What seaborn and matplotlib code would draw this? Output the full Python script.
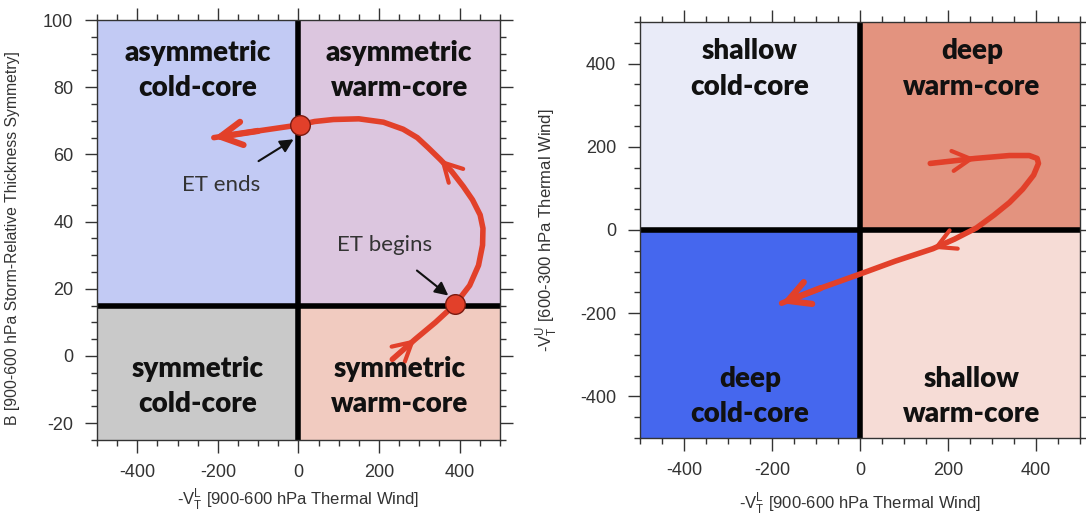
import matplotlib
matplotlib.use("Agg")
import matplotlib.pyplot as plt
from matplotlib.ticker import MultipleLocator
import seaborn as sns
import pandas as pd

# quadrant layout: (x0, x1, y0, y1, colour, label, label x, label y)
left_xlim = (-500, 500)
left_ylim = (-25, 100)
left_xsplit = 0
left_ysplit = 15
left_quads = [
    (-500, 0, 15, 100, "#c2caf4", "asymmetric\ncold-core", -250, 85),
    (0, 500, 15, 100, "#dcc6df", "asymmetric\nwarm-core", 250, 85),
    (-500, 0, -25, 15, "#c9c9c9", "symmetric\ncold-core", -250, -9),
    (0, 500, -25, 15, "#f1cbc0", "symmetric\nwarm-core", 250, -9),
]

right_xlim = (-500, 500)
right_ylim = (-500, 500)
right_quads = [
    (-500, 0, 0, 500, "#e9ebf8", "shallow\ncold-core", -250, 387),
    (0, 500, 0, 500, "#e3937f", "deep\nwarm-core", 255, 387),
    (-500, 0, -500, 0, "#4567ee", "deep\ncold-core", -250, -400),
    (0, 500, -500, 0, "#f6dcd6", "shallow\nwarm-core", 255, -400),
]

# cyclone phase trajectories
left_x = [233, 290, 340, 389, 425, 447, 457, 458, 451, 432, 409, 380, 352, 322, 295, 260,
          211, 150, 87, 40, 3, -100, -210]
left_y = [-1, 5, 10, 15.4, 21, 27, 33, 38, 42, 46.5, 50.5, 55, 58.5, 62, 65, 67.5,
          69.6, 70.6, 70.4, 69.8, 68.8, 67, 65]
left_chevrons = [(0, 1), (11, 12)]

right_x = [160, 262, 340, 385, 403, 406, 395, 370, 340, 305, 265, 215, 166, 80, 0, -90, -178]
right_y = [160, 172, 179, 179, 172, 160, 132, 98, 66, 36, 5, -22, -45, -75, -106, -140, -176]
right_chevrons = [(0, 1), (11, 12)]

# ET begins / ends markers
event_x = [389, 3]
event_y = [15.4, 68.8]

RED = "#e2402a"

sns.set_theme(style="white")
plt.rcParams["font.family"] = ["Liberation Sans", "DejaVu Sans"]
plt.rcParams["axes.unicode_minus"] = False

fig = plt.figure(figsize=(10.86, 5.21), dpi=100)
ax1 = fig.add_axes([0.0893, 0.1555, 0.371, 0.806])
ax2 = fig.add_axes([0.5893, 0.1593, 0.405, 0.7985])


def draw_quads(ax, quads):
    for x0, x1, y0, y1, col, lab, lx, ly in quads:
        ax.fill_between([x0, x1], y0, y1, color=col, lw=0, zorder=0)
        ax.text(lx, ly, lab, ha="center", va="center", fontsize=20,
                family=["Lato", "DejaVu Sans"], fontweight="heavy",
                color="#111111", linespacing=1.45, zorder=5)


def draw_path(ax, xs, ys, chevrons):
    df = pd.DataFrame({"x": xs, "y": ys})
    sns.lineplot(data=df, x="x", y="y", sort=False, estimator=None, color=RED,
                 lw=4, ax=ax, zorder=3, solid_capstyle="round",
                 solid_joinstyle="round")
    for i, j in chevrons:
        ax.annotate("", xy=(xs[j], ys[j]), xytext=(xs[i], ys[i]),
                    arrowprops=dict(arrowstyle="->,head_length=1.1,head_width=0.6",
                                    color=RED, lw=3, shrinkA=0, shrinkB=0),
                    zorder=3)
    ax.annotate("", xy=(xs[-1], ys[-1]), xytext=(xs[-2], ys[-2]),
                arrowprops=dict(arrowstyle="->,head_length=1.3,head_width=0.7",
                                color=RED, lw=4.5, shrinkA=0, shrinkB=0),
                zorder=3)


def style_axes(ax, xlim, ylim, xmaj, xmin, ymaj, ymin):
    ax.set_xlim(*xlim)
    ax.set_ylim(*ylim)
    ax.xaxis.set_major_locator(MultipleLocator(xmaj))
    ax.xaxis.set_minor_locator(MultipleLocator(xmin))
    ax.yaxis.set_major_locator(MultipleLocator(ymaj))
    ax.yaxis.set_minor_locator(MultipleLocator(ymin))
    ax.tick_params(which="both", direction="out", top=True, right=True,
                   bottom=True, left=True, color="#333333", width=1)
    ax.tick_params(which="major", length=9, labelsize=13,
                   labelcolor="#333333", pad=8)
    ax.tick_params(which="minor", length=4.5)
    for s in ax.spines.values():
        s.set_color("#333333")
        s.set_linewidth(1)


# left panel
draw_quads(ax1, left_quads)
ax1.axvline(left_xsplit, color="black", lw=4, zorder=1)
ax1.axhline(left_ysplit, color="black", lw=4, zorder=1)
draw_path(ax1, left_x, left_y, left_chevrons)
sns.scatterplot(x=event_x, y=event_y, ax=ax1, s=200, color=RED,
                edgecolor="#7a1a10", linewidth=1, zorder=4)
ax1.annotate("ET ends", xy=(-12, 64.5), xytext=(-193, 51),
             ha="center", va="center", fontsize=16, color="#333333",
             family=["Lato", "DejaVu Sans"],
             arrowprops=dict(arrowstyle="-|>,head_length=0.5,head_width=0.25",
                             color="#111111", lw=1.5, shrinkA=14, shrinkB=0))
ax1.annotate("ET begins", xy=(372, 18), xytext=(215, 33),
             ha="center", va="center", fontsize=16, color="#333333",
             family=["Lato", "DejaVu Sans"],
             arrowprops=dict(arrowstyle="-|>,head_length=0.5,head_width=0.25",
                             color="#111111", lw=1.5, shrinkA=14, shrinkB=0))
style_axes(ax1, left_xlim, left_ylim, 200, 50, 20, 5)
ax1.set_xlabel(r"-V$_\mathregular{T}^\mathregular{L}$ [900-600 hPa Thermal Wind]",
               fontsize=12, color="#333333")
ax1.set_ylabel("B [900-600 hPa Storm-Relative Thickness Symmetry]",
               fontsize=11.3, color="#333333")
ax1.xaxis.set_label_coords(0.5, -0.11)
ax1.yaxis.set_label_coords(-0.19, 0.48)

# right panel
draw_quads(ax2, right_quads)
ax2.axvline(0, color="black", lw=4, zorder=1)
ax2.axhline(0, color="black", lw=4, zorder=1)
draw_path(ax2, right_x, right_y, right_chevrons)
style_axes(ax2, right_xlim, right_ylim, 200, 50, 200, 50)
ax2.set_xlabel(r"-V$_\mathregular{T}^\mathregular{L}$ [900-600 hPa Thermal Wind]",
               fontsize=12, color="#333333")
ax2.set_ylabel(r"-V$_\mathregular{T}^\mathregular{U}$ [600-300 hPa Thermal Wind]",
               fontsize=12, color="#333333")
ax2.xaxis.set_label_coords(0.5, -0.125)
ax2.yaxis.set_label_coords(-0.184, 0.5)

fig.savefig("out.png", dpi=100)
